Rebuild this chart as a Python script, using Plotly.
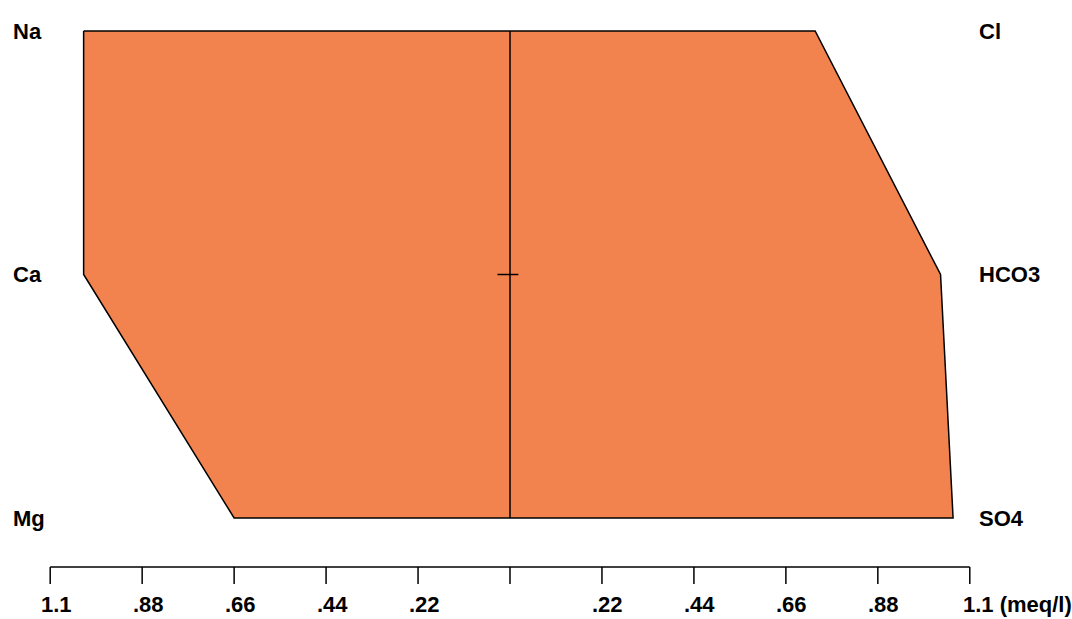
import plotly.graph_objects as go

# Stiff diagram data (meq/l)
cations = ["Na", "Ca", "Mg"]
cation_values = [1.02, 1.02, 0.66]
anions = ["Cl", "HCO3", "SO4"]
anion_values = [0.73, 1.03, 1.06]
tick_values = [0.22, 0.44, 0.66, 0.88, 1.1]
tick_labels = [".22", ".44", ".66", ".88", "1.1"]
unit_label = "(meq/l)"

levels = [2, 1, 0]  # Na/Cl top, Ca/HCO3 middle, Mg/SO4 bottom

FILL = "#F3834E"
FONT = dict(family="Liberation Sans", size=22, color="black")

# polygon: left side top->bottom (negative), right side bottom->top
xs = [-v for v in cation_values] + [v for v in anion_values[::-1]] + [-cation_values[0]]
ys = levels + levels[::-1] + [levels[0]]

fig = go.Figure()
fig.add_trace(go.Scatter(x=xs, y=ys, mode="lines", fill="toself", fillcolor=FILL,
                         line=dict(color="black", width=1.5), hoverinfo="skip", showlegend=False))
# centre line
fig.add_trace(go.Scatter(x=[0, 0], y=[min(levels), max(levels)], mode="lines",
                         line=dict(color="black", width=1.5), hoverinfo="skip", showlegend=False))
# small cross at middle level
fig.add_trace(go.Scatter(x=[-0.03, 0.02], y=[levels[1], levels[1]], mode="lines",
                         line=dict(color="black", width=1.5), hoverinfo="skip", showlegend=False))

annotations = []
x_left_lab = -1.193
x_right_lab = 1.117
for name, lv in zip(cations, levels):
    annotations.append(dict(x=x_left_lab, y=lv, xref="x", yref="y", text=f"<b>{name}</b>",
                            showarrow=False, xanchor="left", yanchor="middle", font=FONT))
for name, lv in zip(anions, levels):
    annotations.append(dict(x=x_right_lab, y=lv, xref="x", yref="y", text=f"<b>{name}</b>",
                            showarrow=False, xanchor="left", yanchor="middle", font=FONT))

shapes = []
axis_y = 1 - 567 / 619
tick_y = 1 - 584 / 619
label_y = 1 - 604 / 619
shapes.append(dict(type="line", xref="x", yref="paper", x0=-tick_values[-1], x1=tick_values[-1],
                   y0=axis_y, y1=axis_y, line=dict(color="black", width=1.5)))
all_ticks = [0] + tick_values + [-t for t in tick_values]
for t in all_ticks:
    shapes.append(dict(type="line", xref="x", yref="paper", x0=t, x1=t, y0=axis_y, y1=tick_y,
                       line=dict(color="black", width=1.5)))
for t, lab in zip(tick_values, tick_labels):
    annotations.append(dict(x=-t, y=label_y, xref="x", yref="paper", text=f"<b>{lab}</b>",
                            xshift=6, showarrow=False, xanchor="center", yanchor="middle", font=FONT))
    if t == tick_values[-1]:
        annotations.append(dict(x=t, y=label_y, xref="x", yref="paper",
                                text=f"<b>{lab} {unit_label}</b>", xshift=-9,
                                showarrow=False, xanchor="left", yanchor="middle", font=FONT))
    else:
        annotations.append(dict(x=t, y=label_y, xref="x", yref="paper", text=f"<b>{lab}</b>",
                                xshift=6, showarrow=False, xanchor="center", yanchor="middle", font=FONT))

fig.update_layout(
    width=1072, height=619,
    margin=dict(l=0, r=0, t=0, b=0),
    plot_bgcolor="white", paper_bgcolor="white",
    xaxis=dict(range=[-510 / 418, 562 / 418], visible=False, fixedrange=True),
    yaxis=dict(range=[(518 - 619) / 243.5, 518 / 243.5], visible=False, fixedrange=True),
    annotations=annotations, shapes=shapes, showlegend=False,
)
fig.write_html("out.html", config={"displayModeBar": False},
               post_script="document.body.style.margin='0';document.body.style.overflow='hidden';")
